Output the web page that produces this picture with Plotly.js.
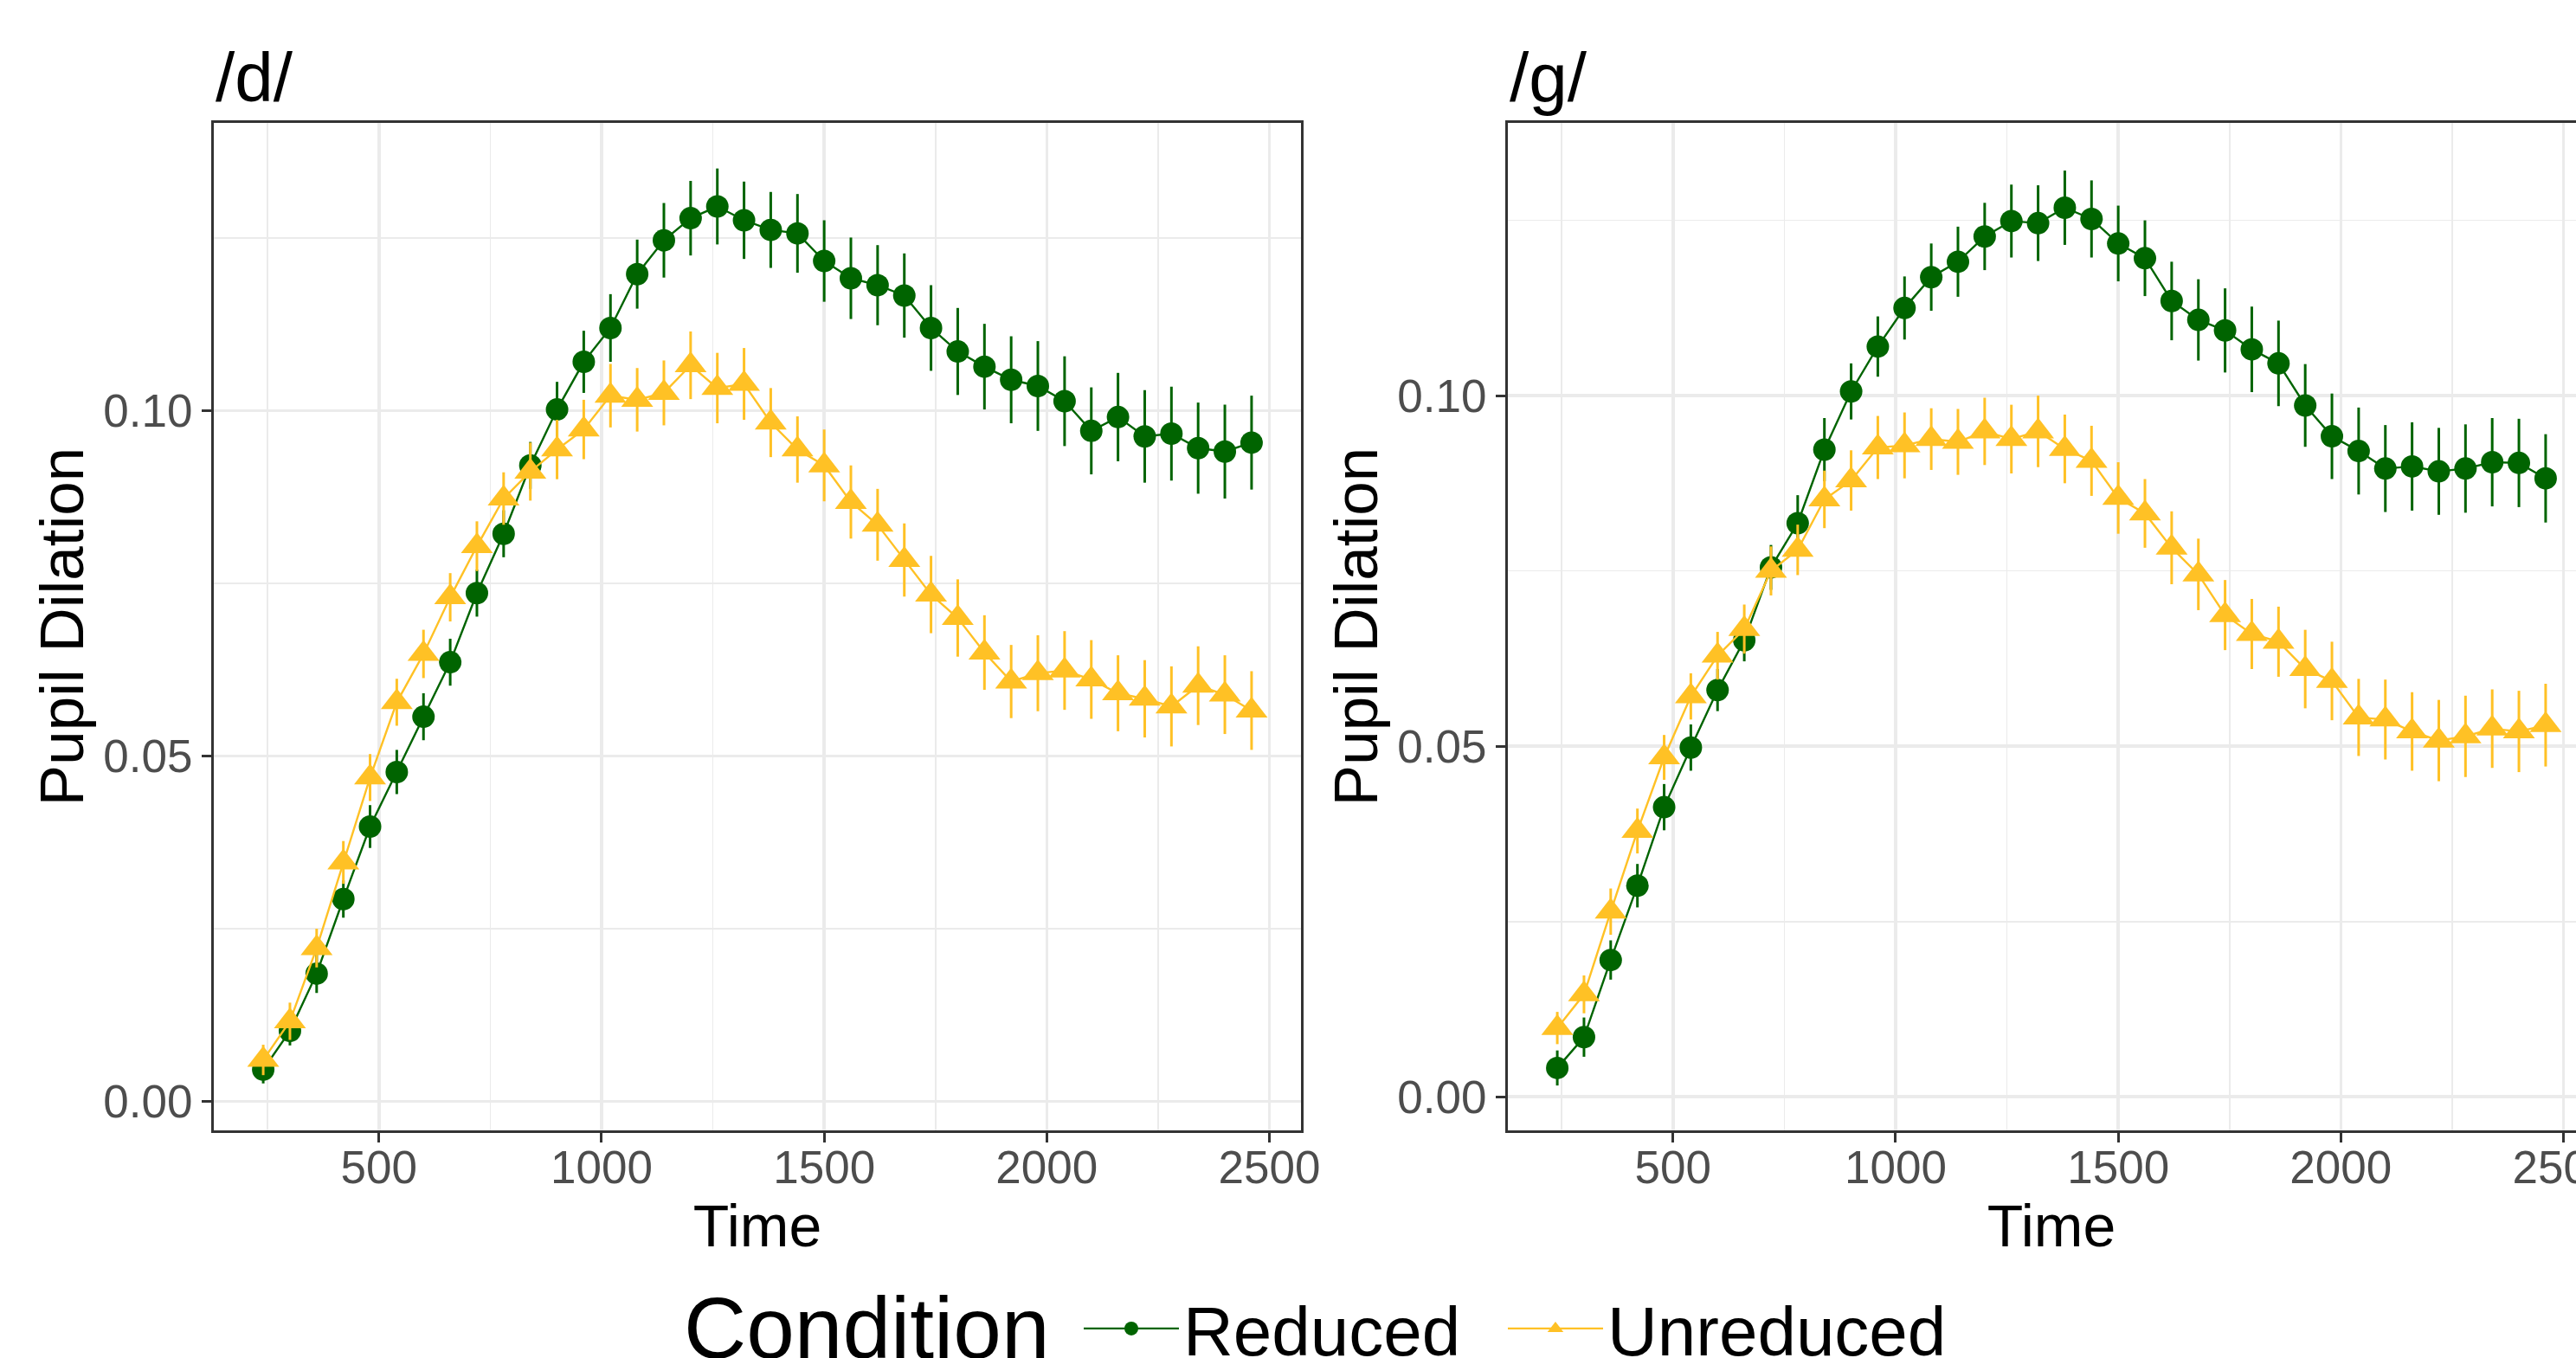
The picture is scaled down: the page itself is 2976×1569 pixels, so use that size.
<!DOCTYPE html>
<html>
<head>
<meta charset="utf-8">
<script src="https://cdn.plot.ly/plotly-3.0.1.min.js"></script>
<style>
  html, body { margin: 0; padding: 0; background: #ffffff; overflow: hidden; }
  #wrap { width: 2976px; height: 1569px; overflow: hidden; position: relative; }
  #chart { width: 3000px; height: 1569px; }
</style>
</head>
<body>
<div id="wrap"><div id="chart"></div></div>
<script>
// ---- data ----
const time = [240, 300, 360, 420, 480, 540, 600, 660, 720, 780, 840, 900, 960, 1020, 1080, 1140, 1200, 1260, 1320,
              1380, 1440, 1500, 1560, 1620, 1680, 1740, 1800, 1860, 1920, 1980, 2040, 2100, 2160, 2220, 2280, 2340, 2400, 2460];

const panelTitles = ["/d/", "/g/"];
const conditions = ["Reduced", "Unreduced"];
const legendTitle = "Condition";

// /d/ panel
const dReduced = [0.0046, 0.0102, 0.0185, 0.0293, 0.0398, 0.0477, 0.0557, 0.0636, 0.0736, 0.0822, 0.0921, 0.1002, 0.1071,
                  0.1120, 0.1198, 0.1247, 0.1279, 0.1296, 0.1276, 0.1262, 0.1257, 0.1217, 0.1192, 0.1182, 0.1167, 0.1120,
                  0.1086, 0.1064, 0.1045, 0.1036, 0.1014, 0.0971, 0.0991, 0.0963, 0.0967, 0.0946, 0.0941, 0.0954];
const dReducedErr = [0.0020, 0.0021, 0.0028, 0.0027, 0.0031, 0.0032, 0.0034, 0.0034, 0.0034, 0.0034, 0.0034, 0.0040, 0.0045,
                     0.0049, 0.0050, 0.0054, 0.0054, 0.0055, 0.0056, 0.0055, 0.0057, 0.0059, 0.0059, 0.0058, 0.0061, 0.0062,
                     0.0063, 0.0062, 0.0063, 0.0065, 0.0065, 0.0063, 0.0064, 0.0067, 0.0068, 0.0066, 0.0068, 0.0068];
const dUnreduced = [0.0060, 0.0116, 0.0222, 0.0346, 0.0469, 0.0578, 0.0648, 0.0730, 0.0804, 0.0873, 0.0912, 0.0944, 0.0973,
                    0.1022, 0.1016, 0.1026, 0.1066, 0.1033, 0.1039, 0.0983, 0.0944, 0.0921, 0.0868, 0.0835, 0.0784, 0.0734,
                    0.0700, 0.0650, 0.0608, 0.0620, 0.0624, 0.0611, 0.0591, 0.0583, 0.0572, 0.0602, 0.0589, 0.0566];
const dUnreducedErr = [0.0022, 0.0027, 0.0028, 0.0031, 0.0034, 0.0034, 0.0035, 0.0035, 0.0036, 0.0038, 0.0042, 0.0043, 0.0043,
                       0.0046, 0.0046, 0.0047, 0.0049, 0.0051, 0.0052, 0.0050, 0.0048, 0.0052, 0.0053, 0.0052, 0.0053, 0.0056,
                       0.0056, 0.0054, 0.0053, 0.0055, 0.0057, 0.0057, 0.0055, 0.0056, 0.0058, 0.0057, 0.0057, 0.0057];

// /g/ panel
const gReduced = [0.0041, 0.0085, 0.0195, 0.0301, 0.0413, 0.0498, 0.0580, 0.0651, 0.0755, 0.0818, 0.0923, 0.1006, 0.1070,
                  0.1125, 0.1169, 0.1191, 0.1227, 0.1249, 0.1246, 0.1268, 0.1252, 0.1217, 0.1196, 0.1135, 0.1108, 0.1093,
                  0.1066, 0.1046, 0.0986, 0.0942, 0.0921, 0.0896, 0.0899, 0.0892, 0.0896, 0.0905, 0.0904, 0.0882];
const gReducedErr = [0.0025, 0.0028, 0.0028, 0.0031, 0.0033, 0.0033, 0.0030, 0.0030, 0.0032, 0.0040, 0.0045, 0.0040, 0.0043,
                     0.0045, 0.0048, 0.0050, 0.0048, 0.0052, 0.0054, 0.0053, 0.0055, 0.0054, 0.0054, 0.0056, 0.0058, 0.0060,
                     0.0061, 0.0061, 0.0059, 0.0061, 0.0062, 0.0062, 0.0063, 0.0062, 0.0063, 0.0063, 0.0063, 0.0063];
const gUnreduced = [0.0098, 0.0146, 0.0264, 0.0379, 0.0484, 0.0571, 0.0629, 0.0667, 0.0750, 0.0780, 0.0852, 0.0879, 0.0926,
                    0.0929, 0.0938, 0.0934, 0.0949, 0.0938, 0.0949, 0.0924, 0.0907, 0.0854, 0.0832, 0.0783, 0.0745, 0.0687,
                    0.0660, 0.0649, 0.0610, 0.0593, 0.0541, 0.0538, 0.0521, 0.0508, 0.0514, 0.0525, 0.0521, 0.0530];
const gUnreducedErr = [0.0023, 0.0027, 0.0033, 0.0032, 0.0032, 0.0033, 0.0034, 0.0035, 0.0035, 0.0036, 0.0041, 0.0043, 0.0045,
                       0.0047, 0.0044, 0.0047, 0.0048, 0.0049, 0.0051, 0.0049, 0.0050, 0.0051, 0.0049, 0.0052, 0.0051, 0.0050,
                       0.0050, 0.0050, 0.0056, 0.0056, 0.0055, 0.0057, 0.0056, 0.0058, 0.0058, 0.0056, 0.0058, 0.0059];

// ---- styling ----
const GREEN = "#006400";
const GOLD = "#FFC125";
const FONT = '"Liberation Sans", Arial, Helvetica, sans-serif';

function mkTrace(y, err, name, color, symbol, size, xa, ya, showlegend) {
  return {
    type: "scatter", mode: "lines+markers", x: time, y: y, name: name,
    xaxis: xa, yaxis: ya, showlegend: showlegend, legendgroup: name,
    line: { color: color, width: 2.4 },
    marker: { color: color, symbol: symbol, size: size },
    error_y: { type: "data", array: err, visible: true, color: color, thickness: 3, width: 0 },
    hoverinfo: "skip"
  };
}

const traces = [
  mkTrace(dReduced, dReducedErr, conditions[0], GREEN, "circle", 26, "x", "y", true),
  mkTrace(dUnreduced, dUnreducedErr, conditions[1], GOLD, "triangle-up", 32, "x", "y", true),
  mkTrace(gReduced, gReducedErr, conditions[0], GREEN, "circle", 26, "x2", "y2", false),
  mkTrace(gUnreduced, gUnreducedErr, conditions[1], GOLD, "triangle-up", 32, "x2", "y2", false),
  // empty spacer entry so the last legend label is not clipped by the legend box
  { type: "scatter", mode: "lines", x: [null], y: [null], name: " ", showlegend: true,
    line: { width: 0, color: "rgba(0,0,0,0)" }, hoverinfo: "skip" }
];

function xAxis(domain, anchor) {
  return {
    domain: domain, anchor: anchor, range: [129, 2571],
    tickmode: "linear", tick0: 0, dtick: 500,
    ticks: "outside", ticklen: 11, tickwidth: 3, tickcolor: "#333333",
    tickfont: { family: FONT, size: 53, color: "#4D4D4D" },
    ticklabelstandoff: -17, ticklabeloverflow: "allow",
    showgrid: true, gridcolor: "#EBEBEB", gridwidth: 3.5,
    minor: { tick0: 0, dtick: 250, showgrid: true, gridcolor: "#EBEBEB", gridwidth: 1.8, ticks: "" },
    showline: true, mirror: true, linecolor: "#333333", linewidth: 3,
    zeroline: false, automargin: false,
    title: { text: "Time", font: { family: FONT, size: 68, color: "#000000" }, standoff: 14 }
  };
}
function yAxis(range, anchor) {
  return {
    domain: [0, 1], anchor: anchor, range: range,
    tickmode: "linear", tick0: 0, dtick: 0.05, tickformat: ".2f",
    ticks: "outside", ticklen: 11, tickwidth: 3, tickcolor: "#333333",
    tickfont: { family: FONT, size: 53, color: "#4D4D4D" },
    ticklabeloverflow: "allow",
    showgrid: true, gridcolor: "#EBEBEB", gridwidth: 3.5,
    minor: { tick0: 0, dtick: 0.025, showgrid: true, gridcolor: "#EBEBEB", gridwidth: 1.8, ticks: "" },
    showline: true, mirror: true, linecolor: "#333333", linewidth: 3,
    zeroline: false, automargin: false,
    title: { text: "Pupil Dilation", font: { family: FONT, size: 71, color: "#000000" }, standoff: 0 }
  };
}

const layout = {
  width: 3000, height: 1569,
  paper_bgcolor: "#ffffff", plot_bgcolor: "#ffffff",
  margin: { l: 247, r: 2, t: 142, b: 263, autoexpand: false },
  font: { family: FONT, color: "#000000" },
  xaxis: xAxis([0, 0.45656], "y"),
  yaxis: yAxis([-0.0042, 0.1417], "x"),
  xaxis2: xAxis([0.54344, 1], "y2"),
  yaxis2: yAxis([-0.0048, 0.1389], "x2"),
  showlegend: true,
  legend: {
    orientation: "h", x: 0.3635, xanchor: "left", y: -0.1464, yanchor: "top",
    font: { family: FONT, size: 80, color: "#000000" },
    itemwidth: 110, entrywidth: 365, bgcolor: "rgba(0,0,0,0)", borderwidth: 0,
    traceorder: "normal"
  },
  annotations: [
    { text: panelTitles[0], xref: "x domain", yref: "y domain", x: 0, y: 1, xanchor: "left", yanchor: "bottom",
      showarrow: false, yshift: 6, font: { family: FONT, size: 80, color: "#000000" } },
    { text: panelTitles[1], xref: "x2 domain", yref: "y2 domain", x: 0, y: 1, xanchor: "left", yanchor: "bottom",
      showarrow: false, yshift: 6, font: { family: FONT, size: 80, color: "#000000" } },
    { text: legendTitle, xref: "paper", yref: "paper", x: 0.19666, y: -0.1959, xanchor: "left", yanchor: "middle",
      showarrow: false, font: { family: FONT, size: 100, color: "#000000" } }
  ]
};

Plotly.newPlot("chart", traces, layout, { staticPlot: true, displayModeBar: false });
</script>
</body>
</html>
